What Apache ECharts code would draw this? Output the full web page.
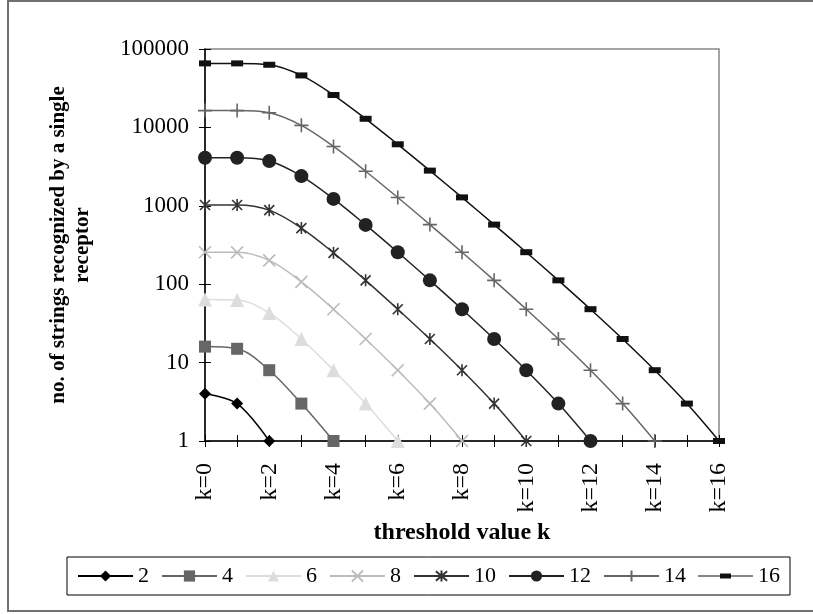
<!DOCTYPE html>
<html>
<head>
<meta charset="utf-8">
<script src="https://cdn.jsdelivr.net/npm/echarts@6/dist/echarts.min.js"></script>
<style>
  html, body { margin: 0; padding: 0; background: #fff; }
  #chart { width: 813px; height: 614px; }
</style>
</head>
<body>
<div id="chart"></div>
<script>
// threshold k = 0..16
var kValues = ['k=0','k=1','k=2','k=3','k=4','k=5','k=6','k=7','k=8','k=9','k=10','k=11','k=12','k=13','k=14','k=15','k=16'];
var seriesNames = ['2', '4', '6', '8', '10', '12', '14', '16'];

// strings recognized, one array per string length (values at k=0..n)
var len2  = [4, 3, 1];
var len4  = [16, 15, 8, 3, 1];
var len6  = [64, 63, 43, 20, 8, 3, 1];
var len8  = [256, 255, 201, 107, 48, 20, 8, 3, 1];
var len10 = [1024, 1023, 880, 520, 251, 112, 48, 20, 8, 3, 1];
var len12 = [4096, 4095, 3719, 2391, 1224, 571, 256, 112, 48, 20, 8, 3, 1];
var len14 = [16384, 16383, 15397, 10616, 5713, 2760, 1275, 576, 256, 112, 48, 20, 8, 3, 1];
var len16 = [65536, 65535, 62952, 46023, 25888, 12880, 6088, 2811, 1280, 576, 256, 112, 48, 20, 8, 3, 1];

var serif = '"Liberation Serif", "Times New Roman", serif';

function mkSeries(name, data, color, symbol, size, stroke) {
  var s = {
    name: name,
    type: 'line',
    data: data,
    smooth: 0.35,
    symbol: symbol,
    symbolSize: size,
    symbolKeepAspect: true,
    lineStyle: { color: color, width: 1.5 },
    itemStyle: { color: color },
    emphasis: { disabled: true }
  };
  if (stroke) {
    // x / asterisk / plus marks are drawn as strokes
    s.itemStyle = { color: 'rgba(0,0,0,0)', borderColor: color, borderWidth: 1.6 };
  }
  return s;
}

// legend entries; "16" gets a line+dash icon so the marker stays flat
var legendData = seriesNames.map(function (n) {
  if (n === '16') {
    return { name: n, icon: 'path://M0,4.5H22V2.5H33V4.5H55V5.5H33V7.5H22V5.5H0Z' };
  }
  return { name: n };
});

var chart = echarts.init(document.getElementById('chart'));
chart.setOption({
  animation: false,
  textStyle: { fontFamily: serif },
  graphic: [{
    type: 'rect',
    shape: { x: 8, y: 1, width: 812, height: 610 },
    style: { fill: 'none', stroke: '#707070', lineWidth: 2 },
    silent: true
  }],
  grid: {
    left: 205, right: 94, top: 49, bottom: 173,
    show: true, borderColor: '#888', borderWidth: 1.5
  },
  legend: {
    left: 67, top: 557,
    itemWidth: 55, itemHeight: 14, itemGap: 12,
    padding: [8, 10, 8, 10],
    borderColor: '#000', borderWidth: 1,
    textStyle: { fontFamily: serif, fontSize: 22, color: '#000' },
    data: legendData
  },
  xAxis: [{
    type: 'category',
    data: kValues,
    boundaryGap: false,
    name: 'threshold value k',
    nameLocation: 'middle',
    nameGap: 80,
    nameTextStyle: { fontFamily: serif, fontSize: 24, fontWeight: 'bold', color: '#000' },
    axisLine: { lineStyle: { color: '#000', width: 1.5 } },
    axisTick: { interval: 0, length: 6, lineStyle: { color: '#000' } },
    axisLabel: { interval: 1, rotate: 90, margin: 22, fontSize: 24, color: '#000', fontFamily: serif },
    splitLine: { show: false }
  }, {
    type: 'category',
    data: kValues,
    boundaryGap: false,
    position: 'bottom',
    axisLine: { show: false },
    axisTick: { interval: 0, inside: true, length: 6, lineStyle: { color: '#000' } },
    axisLabel: { show: false },
    splitLine: { show: false }
  }],
  yAxis: [{
    type: 'log',
    logBase: 10,
    min: 1, max: 100000,
    name: 'no. of strings recognized by a single\nreceptor',
    nameLocation: 'middle',
    nameGap: 110,
    nameTextStyle: { fontFamily: serif, fontSize: 21, fontWeight: 'bold', color: '#000', lineHeight: 24 },
    axisLine: { show: true, lineStyle: { color: '#000', width: 1.5 } },
    axisTick: { show: true, length: 6, lineStyle: { color: '#000' } },
    axisLabel: {
      fontSize: 23, color: '#000', margin: 16, fontFamily: serif,
      formatter: function (v) { return String(v); }
    },
    splitLine: { show: false }
  }, {
    type: 'log',
    logBase: 10,
    min: 1, max: 100000,
    position: 'left',
    axisLine: { show: false },
    axisTick: { show: true, inside: true, length: 6, lineStyle: { color: '#000' } },
    axisLabel: { show: false },
    splitLine: { show: false }
  }],
  series: [
    mkSeries('2', len2, '#000', 'diamond', 12),
    mkSeries('4', len4, '#666', 'rect', 12),
    mkSeries('6', len6, '#ddd', 'triangle', 14),
    mkSeries('8', len8, '#bbb', 'path://M0,0L10,10M10,0L0,10', 12, true),
    mkSeries('10', len10, '#333', 'path://M0,0L10,10M10,0L0,10M5,-1L5,11', 12, true),
    mkSeries('12', len12, '#222', 'circle', 14),
    mkSeries('14', len14, '#666', 'path://M5,0L5,10M0,5L10,5', 14, true),
    mkSeries('16', len16, '#111', 'path://M0,0H20V10H0Z', 12)
  ]
});
</script>
</body>
</html>
